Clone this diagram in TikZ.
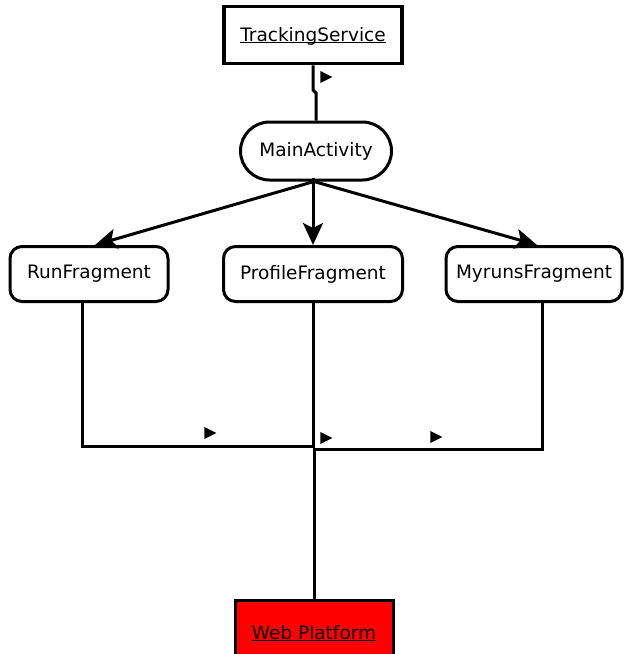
\documentclass[tikz,border=0pt]{standalone}
\usepackage{fontspec}
\setmainfont{DejaVu Sans}
\usetikzlibrary{shapes.geometric,arrows.meta}
\newcommand\myul[1]{\underline{\raisebox{0pt}[\height][0pt]{#1}}}
\begin{document}
\begin{tikzpicture}[x=1pt,y=-1pt,
  box/.style={draw,line width=3pt,inner sep=0pt,font=\fontsize{18.5}{21}\selectfont,text=black},
  frag/.style={box,rounded corners=12pt,minimum height=55pt},
  conn/.style={line width=3pt},
  arr/.style={line width=3pt,-{Stealth[length=22pt,width=20pt,inset=5pt]}},
  marker/.style={isosceles triangle,isosceles triangle stretches,minimum width=12pt,minimum height=12pt,inner sep=0pt,fill=black,draw=none}]
\clip (0,0) rectangle (628,654);
\fill[white] (0,0) rectangle (628,654);
\node[box,line width=3.5pt,minimum width=178pt,minimum height=57pt] (ts) at (313,35) {\myul{TrackingService}};
\node[box,rounded corners=29pt,minimum width=151pt,minimum height=58pt] (ma) at (316,151) {MainActivity};
\node[frag,minimum width=158pt] (rf) at (89,274) {RunFragment};
\node[frag,minimum width=179pt] (pf) at (313,274) {ProfileFragment};
\node[frag,minimum width=176pt] (mf) at (534,274) {MyrunsFragment};
\node[box,fill=red,minimum width=158pt,minimum height=66pt] (wp) at (314,633) {\myul{Web Platform}};
\coordinate (jl) at (313,446);
\coordinate (jr) at (316,449);
\coordinate (j) at (314,448);
\draw[conn] (ts.south) -- (313,90) -- (316,93) -- (ma.north);
\draw[arr] ([xshift=-2pt]ma.south) -- ([xshift=6pt]rf.north);
\draw[arr] ([yshift=4pt]ma.south -| pf.north) -- (pf.north);
\draw[arr] ([xshift=-2pt]ma.south) -- ([xshift=3pt]mf.north);
\draw[conn] ([xshift=-7pt]rf.south) |- (jl);
\draw[conn] (pf.south) -- (pf.south |- j);
\draw[conn] ([xshift=8pt]mf.south) |- (jr);
\draw[conn] (j) -- (wp.north);
\node[marker] (m0) at (324,77) {};
\node[marker] (m1) at (208,433) {};
\node[marker] (m2) at (324,438) {};
\node[marker] (m3) at (434,437) {};
\end{tikzpicture}
\end{document}
